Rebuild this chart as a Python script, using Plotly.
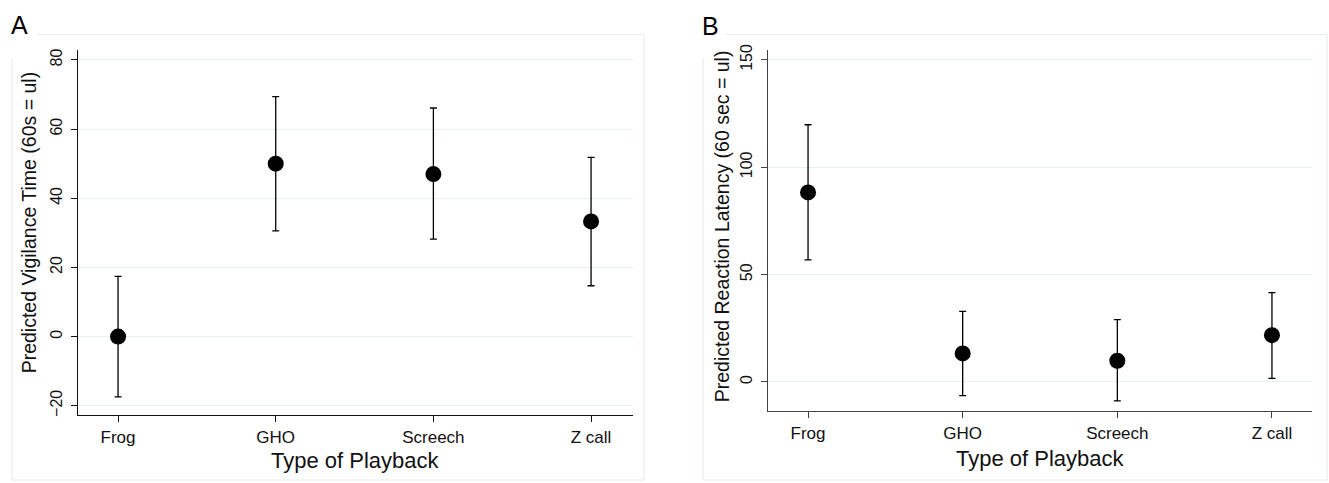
import plotly.graph_objects as go

W, H = 1329, 483

# ---- Data ----
categories = ["Frog", "GHO", "Screech", "Z call"]

vigilance_mean = [0.0, 50.0, 47.0, 33.3]
vigilance_lower = [-17.4, 30.6, 28.2, 14.7]
vigilance_upper = [17.4, 69.4, 66.1, 51.8]

latency_mean = [88.3, 13.3, 9.9, 21.8]
latency_lower = [56.9, -6.4, -8.8, 1.7]
latency_upper = [119.8, 32.9, 29.0, 41.6]

ticks_a = [-20, 0, 20, 40, 60, 80]
ticks_b = [0, 50, 100, 150]


def px_x(x):
    return x / W


def px_y(y):
    return 1 - y / H


FONT = "Liberation Sans, Arial, sans-serif"
GRID = "#e6eff1"
BORDER = "#e8eeee"

fig = go.Figure()


def add_panel(means, lows, ups, xa, ya):
    fig.add_trace(go.Scatter(
        x=categories, y=means, mode="markers",
        marker=dict(size=16, color="black", line=dict(width=0)),
        error_y=dict(type="data", symmetric=False,
                     array=[u - m for u, m in zip(ups, means)],
                     arrayminus=[m - l for m, l in zip(means, lows)],
                     color="black", thickness=1.3, width=3.5),
        xaxis=xa, yaxis=ya, showlegend=False, hoverinfo="skip",
    ))


add_panel(vigilance_mean, vigilance_lower, vigilance_upper, "x", "y")
add_panel(latency_mean, latency_lower, latency_upper, "x2", "y2")

xcommon = dict(type="category", categoryorder="array", categoryarray=categories,
               showline=True, linewidth=1.2, ticks="outside", ticklen=6,
               tickwidth=1, showgrid=False, zeroline=False,
               tickfont=dict(family=FONT, size=17, color="#111"))
ycommon = dict(showline=True, linewidth=1.2, ticks="outside", ticklen=6,
               tickwidth=1, showgrid=True, gridcolor=GRID, gridwidth=1,
               zeroline=False, tickangle=-90, ticklabelstandoff=3,
               tickfont=dict(family=FONT, size=16, color="#111"))

fig.update_layout(
    width=W, height=H,
    margin=dict(l=0, r=0, t=0, b=0),
    paper_bgcolor="white", plot_bgcolor="white",
    xaxis=dict(**xcommon, domain=[px_x(78), px_x(633)], range=[-0.254, 3.266],
               anchor="y", linecolor="#111", tickcolor="#111"),
    yaxis=dict(**ycommon, domain=[px_y(416), px_y(45)], range=[-22.7, 82.8],
               tickvals=ticks_a, anchor="x", linecolor="#111", tickcolor="#111"),
    xaxis2=dict(**xcommon, domain=[px_x(768), px_x(1312)], range=[-0.259, 3.259],
                anchor="y2", linecolor="#444", tickcolor="#444"),
    yaxis2=dict(**ycommon, domain=[px_y(412), px_y(45)], range=[-13.6, 154.5],
                tickvals=ticks_b, anchor="x2", linecolor="#444", tickcolor="#444"),
)

# Graph-region borders (light outline)
shapes = []
for (x0, x1, y0, y1) in [
    (37, 644, 29, 29), (12, 12, 53, 482), (644, 644, 29, 482), (12, 644, 482, 482),
    (726, 1327, 29, 29), (703, 703, 53, 482), (1327, 1327, 29, 482), (703, 1327, 482, 482),
]:
    shapes.append(dict(type="line", xref="paper", yref="paper",
                       x0=px_x(x0), x1=px_x(x1), y0=px_y(y0), y1=px_y(y1),
                       line=dict(color=BORDER, width=1.2), layer="below"))
fig.update_layout(shapes=shapes)

annotations = [
    dict(text="A", x=px_x(19), y=px_y(19), font=dict(family=FONT, size=25, color="black")),
    dict(text="B", x=px_x(710), y=px_y(20), font=dict(family=FONT, size=25, color="black")),
    dict(text="Type of Playback", x=px_x(355), y=px_y(462), font=dict(family=FONT, size=22, color="#111")),
    dict(text="Type of Playback", x=px_x(1040), y=px_y(460), font=dict(family=FONT, size=22, color="#111")),
    dict(text="Predicted Vigilance Time (60s = ul)", x=px_x(29), y=px_y(220), textangle=-90,
         font=dict(family=FONT, size=19.5, color="#111")),
    dict(text="Predicted Reaction Latency (60 sec = ul)", x=px_x(722), y=px_y(224), textangle=-90,
         font=dict(family=FONT, size=19.5, color="#111")),
]
for a in annotations:
    a.update(xref="paper", yref="paper", showarrow=False, xanchor="center", yanchor="middle")
fig.update_layout(annotations=annotations)

fig.write_html("out.html", config={"displayModeBar": False},
               post_script="document.body.style.margin='0px';document.body.style.overflow='hidden';")
